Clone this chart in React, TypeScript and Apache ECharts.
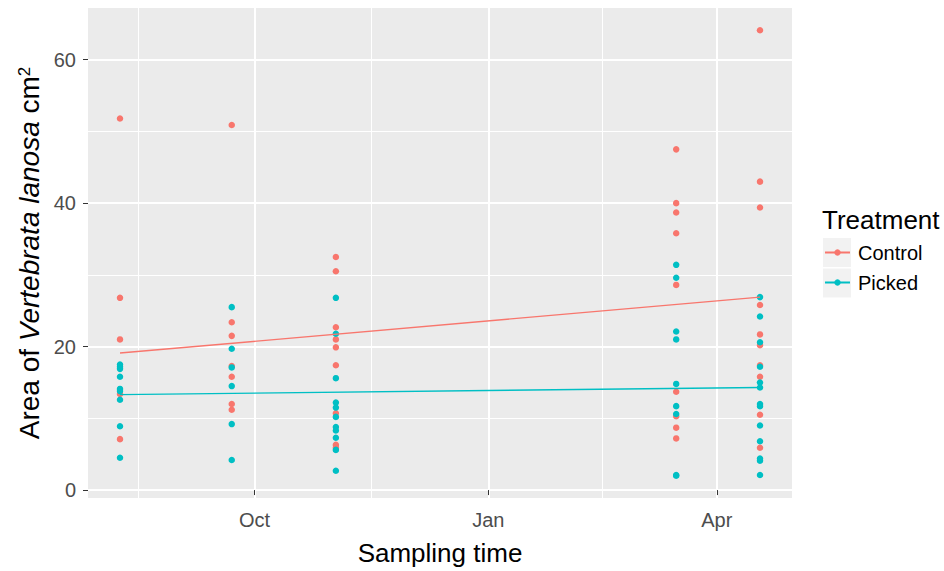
import React, { useEffect, useRef } from 'react';
import * as echarts from 'echarts';

// Sampling dates
const sampleDates = ['2014-08-09', '2014-09-22', '2014-11-02', '2015-03-16', '2015-04-18'];

// Control (red) values per sampling date
const controlAug = [51.8, 26.8, 21.0, 13.4, 7.1];
const controlSep = [50.9, 23.4, 21.5, 17.3, 15.8, 12.0, 11.2];
const controlNov = [32.5, 30.5, 22.7, 21.0, 19.9, 17.4, 10.7, 6.3, 5.9];
const controlMar = [47.5, 40.0, 38.7, 35.8, 28.6, 13.7, 10.3, 8.7, 7.2];
const controlApr = [64.1, 43.0, 39.4, 25.8, 21.7, 20.2, 17.4, 15.8, 10.5, 5.9];

// Picked (cyan) values per sampling date
const pickedAug = [17.5, 17.2, 16.9, 15.8, 14.1, 13.8, 12.6, 8.9, 4.5];
const pickedSep = [25.5, 19.7, 17.1, 14.5, 9.2, 4.2];
const pickedNov = [26.8, 21.8, 15.6, 12.2, 11.5, 10.2, 8.8, 8.3, 7.3, 5.6, 2.7];
const pickedMar = [31.4, 29.6, 22.1, 21.0, 14.8, 11.7, 10.6, 2.1, 2.0];
const pickedApr = [26.9, 24.2, 20.6, 17.2, 15.0, 14.3, 12.0, 11.7, 9.0, 6.8, 4.4, 4.1, 2.1];

// Linear fit values at first and last sampling date
const controlFit = [19.1, 26.9];
const pickedFit = [13.3, 14.3];

// Axis ticks
const xTickDates = ['2014-10-01', '2015-01-01', '2015-04-01'];
const xTickLabels = ['Oct', 'Jan', 'Apr'];
const xMinorDates = ['2014-08-16', '2014-11-16', '2015-02-15'];
const yTicks = [0, 20, 40, 60];
const yMinorTicks = [10, 30, 50];

const FONT = '"Liberation Sans", Arial, Helvetica, sans-serif';
const RED = '#F8766D';
const CYAN = '#00BFC4';
const DAY = 86400000;

// days since 1970-01-01 (UTC)
const toD = (s: string) => new Date(s + 'T00:00:00Z').getTime() / DAY;

export default function App() {
  const ref = useRef<HTMLDivElement>(null);

  useEffect(() => {
    if (!ref.current) return;
    const chart = echarts.init(ref.current, null, { renderer: 'svg' });

    const tDates = sampleDates.map(toD);
    const ctrlGroups = [controlAug, controlSep, controlNov, controlMar, controlApr];
    const pickGroups = [pickedAug, pickedSep, pickedNov, pickedMar, pickedApr];
    const toPoints = (groups: number[][]) =>
      groups.flatMap((vals, i) => vals.map((v) => [tDates[i], v]));

    const xSpan = tDates[tDates.length - 1] - tDates[0];
    const xMin = tDates[0] - 0.05 * xSpan;
    const xMax = tDates[tDates.length - 1] + 0.05 * xSpan;

    const allVals = [...ctrlGroups.flat(), ...pickGroups.flat()];
    const lo = Math.min(...allVals);
    const hi = Math.max(...allVals);
    const pad = 0.05 * (hi - lo);
    const yMin = lo - pad;
    const yMax = hi + pad;

    const xTickTimes = xTickDates.map(toD);
    const labelMap: Record<string, string> = {};
    xTickTimes.forEach((t, i) => (labelMap[String(t)] = xTickLabels[i]));
    const xMinorTimes = xMinorDates.map(toD);

    const option: any = {
      animation: false,
      textStyle: { fontFamily: FONT },
      grid: {
        left: 88,
        right: 152,
        top: 8,
        bottom: 73,
        show: true,
        backgroundColor: '#EBEBEB',
        borderWidth: 0,
        containLabel: false,
        outerBoundsMode: 'none',
      },
      title: {
        text: 'Treatment',
        left: 822,
        top: 207,
        padding: 0,
        textStyle: { fontSize: 26, fontWeight: 'normal', color: '#000', fontFamily: FONT },
      },
      legend: {
        data: ['Control', 'Picked'],
        orient: 'vertical',
        left: 824,
        top: 242.5,
        itemWidth: 25,
        itemHeight: 8,
        itemGap: 10,
        padding: 0,
        selectedMode: false,
        z: 10,
        textStyle: {
          fontSize: 20,
          color: '#000',
          fontFamily: FONT,
          padding: [0, 0, 0, 3],
        },
      },
      graphic: [
        { type: 'rect', z: 1, shape: { x: 823, y: 238, width: 28, height: 29 }, style: { fill: '#F2F2F2' } },
        { type: 'rect', z: 1, shape: { x: 823, y: 268.5, width: 28, height: 29 }, style: { fill: '#F2F2F2' } },
      ],
      xAxis: [
        {
          type: 'value',
          min: xMin,
          max: xMax,
          position: 'bottom',
          axisLine: { show: false },
          axisTick: { show: true, length: 5, lineStyle: { color: '#333333', width: 1 }, customValues: xTickTimes },
          axisLabel: {
            customValues: xTickTimes,
            formatter: (v: number) => labelMap[String(v)] ?? '',
            fontSize: 20,
            color: '#4D4D4D',
            margin: 12,
            fontFamily: FONT,
          },
          splitLine: { show: true, lineStyle: { color: '#FFFFFF', width: 2 } },
          name: 'Sampling time',
          nameLocation: 'middle',
          nameGap: 42,
          nameMoveOverlap: false,
          nameTextStyle: { fontSize: 26, color: '#000', fontFamily: FONT },
        },
        {
          type: 'value',
          min: xMin,
          max: xMax,
          position: 'bottom',
          axisLine: { show: false },
          axisTick: { show: false, customValues: xMinorTimes },
          axisLabel: { show: false, customValues: xMinorTimes },
          splitLine: { show: true, lineStyle: { color: '#FFFFFF', width: 1 } },
        },
      ],
      yAxis: [
        {
          type: 'value',
          min: yMin,
          max: yMax,
          position: 'left',
          axisLine: { show: false },
          axisTick: { show: true, length: 5, lineStyle: { color: '#333333', width: 1 }, customValues: yTicks },
          axisLabel: { customValues: yTicks, fontSize: 20, color: '#4D4D4D', margin: 12, fontFamily: FONT },
          splitLine: { show: true, lineStyle: { color: '#FFFFFF', width: 2 } },
          name: '{n|Area of }{i|Vertebrata lanosa}{n| cm}{s|2}',
          nameLocation: 'middle',
          nameRotate: 90,
          nameGap: 45,
          nameMoveOverlap: false,
          nameTextStyle: {
            color: '#000',
            fontFamily: FONT,
            rich: {
              n: { fontSize: 28, lineHeight: 27, verticalAlign: 'bottom', color: '#000', fontFamily: FONT },
              i: { fontSize: 28, lineHeight: 27, verticalAlign: 'bottom', color: '#000', fontFamily: FONT, fontStyle: 'italic' },
              s: { fontSize: 17, lineHeight: 17, verticalAlign: 'top', padding: [0, 0, 26, 0], color: '#000', fontFamily: FONT },
            },
          },
        },
        {
          type: 'value',
          min: yMin,
          max: yMax,
          position: 'left',
          axisLine: { show: false },
          axisTick: { show: false, customValues: yMinorTicks },
          axisLabel: { show: false, customValues: yMinorTicks },
          splitLine: { show: true, lineStyle: { color: '#FFFFFF', width: 1 } },
        },
      ],
      series: [
        {
          name: 'Control',
          type: 'line',
          data: [[tDates[0], controlFit[0]], [tDates[tDates.length - 1], controlFit[1]]],
          showSymbol: false,
          symbol: 'circle',
          lineStyle: { width: 1.4, color: RED },
          itemStyle: { color: RED },
          z: 4,
          silent: true,
        },
        {
          name: 'Picked',
          type: 'line',
          data: [[tDates[0], pickedFit[0]], [tDates[tDates.length - 1], pickedFit[1]]],
          showSymbol: false,
          symbol: 'circle',
          lineStyle: { width: 1.4, color: CYAN },
          itemStyle: { color: CYAN },
          z: 4,
          silent: true,
        },
        {
          name: 'Control',
          type: 'scatter',
          data: toPoints(ctrlGroups),
          symbolSize: 6.5,
          itemStyle: { color: RED, opacity: 1 },
          z: 3,
        },
        {
          name: 'Picked',
          type: 'scatter',
          data: toPoints(pickGroups),
          symbolSize: 6.5,
          itemStyle: { color: CYAN, opacity: 1 },
          z: 3,
        },
      ],
    };

    chart.setOption(option);
    return () => chart.dispose();
  }, []);

  return (
    <div
      ref={ref}
      style={{ position: 'fixed', left: 0, top: 0, width: 944, height: 571, background: '#fff' }}
    />
  );
}
